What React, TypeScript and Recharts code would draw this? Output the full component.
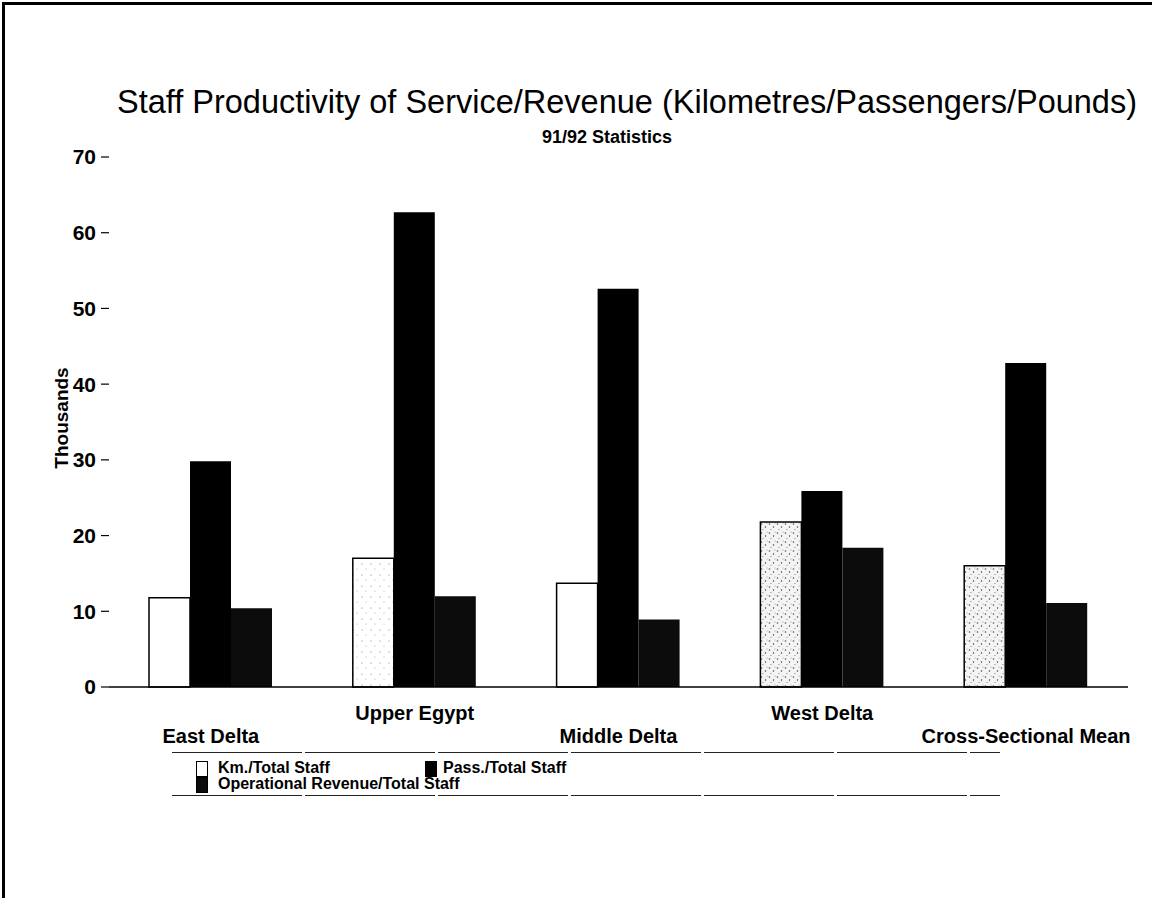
import React from "react";
import { BarChart, Bar, XAxis, YAxis, Cell } from "recharts";

const regions = ["East Delta", "Upper Egypt", "Middle Delta", "West Delta", "Cross-Sectional Mean"];
const kmPerStaff = [11.8, 17.0, 13.7, 21.8, 16.0];
const passPerStaff = [29.8, 62.7, 52.6, 25.9, 42.8];
const revenuePerStaff = [10.4, 12.0, 8.9, 18.4, 11.1];
const kmTexture = ["plain", "light", "plain", "heavy", "heavy"];
const yTicks = [0, 10, 20, 30, 40, 50, 60, 70];

const seriesNames = {
  km: "Km./Total Staff",
  pass: "Pass./Total Staff",
  rev: "Operational Revenue/Total Staff",
};

const FONT = "'Liberation Sans', Arial, sans-serif";
const REV_FILL = "#0c0c0c";

const data = regions.map((name, i) => ({
  name,
  km: kmPerStaff[i],
  pass: passPerStaff[i],
  rev: revenuePerStaff[i],
}));

const fillFor = (t: string) => (t === "heavy" ? "url(#speckHeavy)" : t === "light" ? "url(#speckLight)" : "#fff");

// category labels alternate between a high and a low row
function CategoryTick(props: any) {
  const { x, y, payload, index } = props;
  const dy = index % 2 === 0 ? 49 : 26;
  return (
    <text
      x={x}
      y={y + dy}
      textAnchor="middle"
      dominantBaseline="central"
      fontFamily={FONT}
      fontWeight="bold"
      fontSize={20}
      fill="#000"
    >
      {payload.value}
    </text>
  );
}

function Swatch({ left, top, fill }: { left: number; top: number; fill: string }) {
  return (
    <div
      style={{
        position: "absolute",
        left,
        top,
        width: 10,
        height: 14,
        background: fill,
        border: "1px solid #000",
      }}
    />
  );
}

const dashedRule: React.CSSProperties = {
  position: "absolute",
  left: 172,
  width: 828,
  height: 1,
  background: "repeating-linear-gradient(90deg, #222 0px, #222 130px, #fff 130px, #fff 133px)",
};

export default function App() {
  const textStyle: React.CSSProperties = {
    position: "absolute",
    fontFamily: FONT,
    color: "#000",
    whiteSpace: "nowrap",
  };
  return (
    <div style={{ position: "absolute", left: 0, top: 0, width: 1152, height: 898, background: "#fff", overflow: "hidden" }}>
      {/* scanned page frame */}
      <div style={{ position: "absolute", left: 2, top: 2, width: 1160, height: 910, borderTop: "3px solid #000", borderLeft: "3px solid #000" }} />

      <div style={{ ...textStyle, left: 0, width: 1254, top: 83, textAlign: "center", fontSize: 32.5, lineHeight: "38px" }}>
        Staff Productivity of Service/Revenue (Kilometres/Passengers/Pounds)
      </div>
      <div style={{ ...textStyle, left: 0, width: 1214, top: 126, textAlign: "center", fontSize: 18, fontWeight: "bold", lineHeight: "22px" }}>
        91/92 Statistics
      </div>
      <div
        style={{
          ...textStyle,
          left: 62,
          top: 418,
          fontSize: 19,
          fontWeight: "bold",
          transform: "translate(-50%, -50%) rotate(-90deg)",
        }}
      >
        Thousands
      </div>

      <div style={{ position: "absolute", left: 0, top: 0 }}>
        <BarChart
          width={1152}
          height={898}
          data={data}
          margin={{ top: 157, right: 24, bottom: 151, left: 0 }}
          barGap={0}
          barSize={41}
        >
          <defs>
            <pattern id="speckLight" width="9" height="11" patternUnits="userSpaceOnUse">
              <rect width="9" height="11" fill="#fff" />
              <circle cx="2" cy="3" r="0.6" fill="#777" />
              <circle cx="6" cy="8" r="0.5" fill="#999" />
            </pattern>
            <pattern id="speckHeavy" width="8" height="9" patternUnits="userSpaceOnUse">
              <rect width="8" height="9" fill="#f4f4f4" />
              <circle cx="1.5" cy="2" r="0.8" fill="#555" />
              <circle cx="5.5" cy="5" r="0.7" fill="#333" />
              <circle cx="3" cy="7.5" r="0.6" fill="#777" />
              <circle cx="7" cy="1" r="0.5" fill="#888" />
            </pattern>
          </defs>
          <XAxis
            dataKey="name"
            height={60}
            axisLine={{ stroke: "#000", strokeWidth: 1.5 }}
            tickLine={false}
            tickSize={0}
            tickMargin={0}
            interval={0}
            tick={<CategoryTick />}
          />
          <YAxis
            width={109}
            domain={[0, 70]}
            ticks={yTicks}
            interval={0}
            axisLine={false}
            tickLine={{ stroke: "#000", strokeWidth: 1.2 }}
            tickSize={8}
            tickMargin={5}
            tick={{ fontFamily: FONT, fontWeight: "bold", fontSize: 21, fill: "#000" }}
          />
          <Bar dataKey="km" name={seriesNames.km} stroke="#000" strokeWidth={1.5} isAnimationActive={false}>
            {data.map((d, i) => (
              <Cell key={`km-${i}`} fill={fillFor(kmTexture[i])} />
            ))}
          </Bar>
          <Bar dataKey="pass" name={seriesNames.pass} fill="#000" isAnimationActive={false} />
          <Bar dataKey="rev" name={seriesNames.rev} fill={REV_FILL} isAnimationActive={false} />
        </BarChart>
      </div>

      {/* legend box */}
      <div style={{ ...dashedRule, top: 752 }} />
      <div style={{ ...dashedRule, top: 795 }} />
      <Swatch left={196} top={761} fill="#fff" />
      <div style={{ ...textStyle, left: 218, top: 759, fontSize: 16, fontWeight: "bold", lineHeight: "18px" }}>{seriesNames.km}</div>
      <Swatch left={425} top={761} fill="#000" />
      <div style={{ ...textStyle, left: 443, top: 759, fontSize: 16, fontWeight: "bold", lineHeight: "18px" }}>{seriesNames.pass}</div>
      <Swatch left={196} top={777} fill={REV_FILL} />
      <div style={{ ...textStyle, left: 218, top: 775, fontSize: 16, fontWeight: "bold", lineHeight: "18px" }}>{seriesNames.rev}</div>
    </div>
  );
}
